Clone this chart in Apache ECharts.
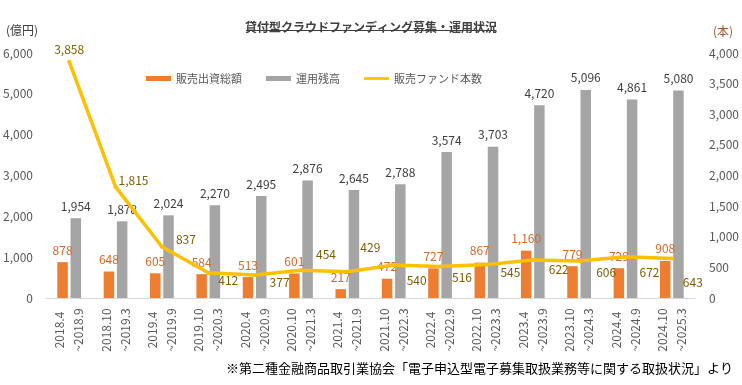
<!DOCTYPE html>
<html><head><meta charset="utf-8">
<script src="https://cdn.jsdelivr.net/npm/echarts@6/dist/echarts.min.js"></script>
<style>html,body{margin:0;padding:0;background:#fff}#c{width:742px;height:385px}</style>
</head><body><div id="c"></div>
<script>
const periodStart = ["2018.4","2018.10","2019.4","2019.10","2020.4","2020.10","2021.4","2021.10","2022.4","2022.10","2023.4","2023.10","2024.4","2024.10"];
const periodEnd = ["~2018.9","~2019.3","~2019.9","~2020.3","~2020.9","~2021.3","~2021.9","~2022.3","~2022.9","~2023.3","~2023.9","~2024.3","~2024.9","~2025.3"];
const salesAmount = [878,648,605,584,513,601,217,472,727,867,1160,779,729,908];
const outstanding = [1954,1878,2024,2270,2495,2876,2645,2788,3574,3703,4720,5096,4861,5080];
const fundCount = [3858,1815,837,412,377,454,429,540,516,545,622,606,672,643];
const seriesNames = ["販売出資総額","運用残高","販売ファンド本数"];
const leftTicks = {min:0,max:6000,interval:1000};
const rightTicks = {min:0,max:4000,interval:500};
// label placement offsets for the line labels (style only)
const lineLabelOffsets = [null,[1,-6],[12,-7],[8,8],[13,8],[13,-16],[11,-24],[11,16],[10,11],[12,8],[14,10],[15,12],[12,16],[9,24]];

const FONT = '"Noto Sans CJK JP", "Noto Sans", sans-serif';
const categories = periodStart.map((s,i)=> s + "\n" + periodEnd[i]);
const fmt = v => v.toLocaleString('en-US');

const lineData = fundCount.map((v,i)=>{
  const o = lineLabelOffsets[i];
  if (!o) return {value:v, label:{position:'top', distance:4}};
  return {value:v, label:{position:'right', distance:0, offset:o}};
});

const chart = echarts.init(document.getElementById('c'), null, {renderer:'canvas'});
chart.setOption({
  backgroundColor:'#fff',
  animation:false,
  textStyle:{fontFamily:FONT},
  title:{
    text:'貸付型クラウドファンディング募集・運用状況',
    left:'center', top:16,
    textStyle:{fontSize:12, fontWeight:'bold', color:'#404040', fontFamily:FONT}
  },
  graphic:[
    {type:'line', shape:{x1:246,y1:30.5,x2:496,y2:30.5}, style:{stroke:'#404040', lineWidth:1}},
    {type:'text', left:6, top:24, style:{text:'(億円)', fontSize:12, fill:'#404040', fontFamily:FONT}},
    {type:'text', left:713, top:25, style:{text:'(本)', fontSize:12, fill:'#A65628', fontFamily:FONT}},
    {type:'text', right:9, top:362, style:{text:'※第二種金融商品取引業協会「電子申込型電子募集取扱業務等に関する取扱状況」より', fontSize:13, fill:'#000', fontFamily:FONT}}
  ],
  legend:{
    left:141, top:68,
    itemWidth:25, itemHeight:5, itemGap:24,
    textStyle:{fontSize:11, color:'#595959', fontFamily:FONT},
    data:[{name:seriesNames[0], icon:'rect'},{name:seriesNames[1], icon:'rect'},{name:seriesNames[2], icon:'path://M0,0H28V3H0Z'}]
  },
  grid:{left:46, right:44, top:53, bottom:87, containLabel:false},
  xAxis:{
    type:'category', data:categories,
    axisLine:{lineStyle:{color:'#D9D9D9', width:1}},
    axisTick:{show:false},
    axisLabel:{interval:0, rotate:90, align:'center', verticalAlign:'middle', margin:32, lineHeight:19, fontSize:12, color:'#595959', fontFamily:FONT}
  },
  yAxis:[
    {type:'value', min:leftTicks.min, max:leftTicks.max, interval:leftTicks.interval,
     splitLine:{show:false}, axisLine:{show:false}, axisTick:{show:false},
     axisLabel:{margin:13, fontSize:12, color:'#595959', fontFamily:FONT, formatter:fmt}},
    {type:'value', min:rightTicks.min, max:rightTicks.max, interval:rightTicks.interval,
     splitLine:{show:false}, axisLine:{show:false}, axisTick:{show:false},
     axisLabel:{margin:14, fontSize:12, color:'#595959', fontFamily:FONT, formatter:fmt}}
  ],
  series:[
    {name:seriesNames[0], type:'bar', yAxisIndex:0, data:salesAmount,
     barWidth:10.5, barGap:'26%',
     itemStyle:{color:'#ED7D31'},
     label:{show:true, position:'top', distance:6, fontSize:12, color:'#D9692A', fontFamily:FONT, formatter:p=>fmt(p.value)}},
    {name:seriesNames[1], type:'bar', yAxisIndex:0, data:outstanding,
     barWidth:10.5, barGap:'26%',
     itemStyle:{color:'#A5A5A5'},
     label:{show:true, position:'top', distance:6, fontSize:12, color:'#404040', fontFamily:FONT, formatter:p=>fmt(p.value)}},
    {name:seriesNames[2], type:'line', yAxisIndex:1, data:lineData,
     symbol:'circle', symbolSize:4, showSymbol:true,
     lineStyle:{color:'#FFC000', width:3.5},
     itemStyle:{color:'#FFC000'},
     label:{show:true, fontSize:12, color:'#806000', fontFamily:FONT, formatter:p=>fmt(p.value)},
     z:5}
  ]
});
</script>
</body></html>
